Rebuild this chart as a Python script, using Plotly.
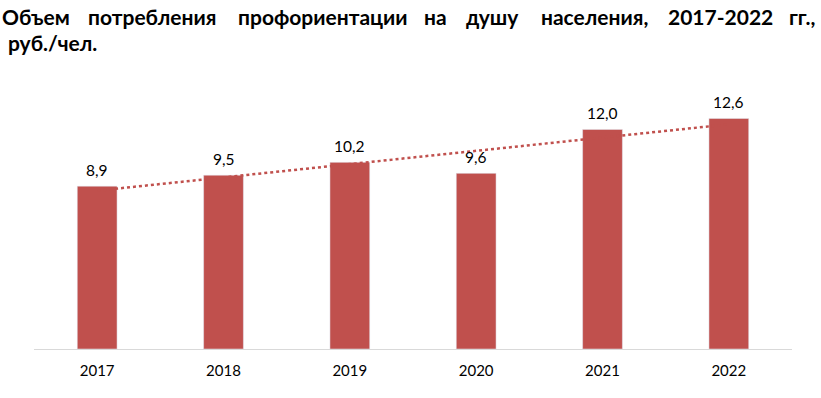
import plotly.graph_objects as go
import numpy as np

years = ["2017", "2018", "2019", "2020", "2021", "2022"]
values = [8.9, 9.5, 10.2, 9.6, 12.0, 12.6]
labels = [f"{v:.1f}".replace(".", ",") for v in values]

title_line1 = ["Объем", "потребления", "профориентации", "на", "душу", "населения,", "2017-2022", "гг.,"]
title_line2 = "руб./чел."

# linear trend (Excel-style trendline)
xi = np.arange(1, len(values) + 1)
slope, intercept = np.polyfit(xi, values, 1)
trend = [slope * x + intercept for x in xi]

bar_color = "#C0504D"
label_font = "Lato, Carlito, Calibri, sans-serif"
title_font = "Lato, Carlito, Calibri, Noto Sans, sans-serif"

fig = go.Figure()
fig.add_trace(go.Scatter(
    x=years, y=trend, mode="lines",
    line=dict(color=bar_color, width=2.5, dash="dot"),
    hoverinfo="skip", showlegend=False,
))
fig.add_trace(go.Bar(
    x=years, y=values, marker_color=bar_color,
    hoverinfo="skip", showlegend=False,
))

PL, PW, PT, PH = 34, 758, 80, 269
annotations = []
for i, (v, lab) in enumerate(zip(values, labels)):
    annotations.append(dict(
        x=i, y=v, xref="x", yref="y", text=lab, showarrow=False,
        xanchor="center", yanchor="bottom", yshift=5,
        font=dict(family=label_font, size=15.5, color="#000000"),
    ))

# justified title: centre of each word on the first line (pixels)
word_cx = [35.5, 152, 323, 435.7, 492.6, 594.5, 720.4, 802]
for w, cx in zip(title_line1, word_cx):
    annotations.append(dict(
        text="<b>" + w + "</b>", xref="paper", yref="paper", x=(cx - PL) / PW, y=1.0,
        xanchor="center", yanchor="middle", yshift=PT - 16, showarrow=False,
        font=dict(family=title_font, size=21, color="#000000"),
    ))
annotations.append(dict(
    text="<b>" + title_line2 + "</b>", xref="paper", yref="paper", x=(6 - PL) / PW, y=1.0,
    xanchor="left", yanchor="middle", yshift=PT - 42, showarrow=False,
    font=dict(family=title_font, size=21, color="#000000"),
))

fig.update_layout(
    width=821, height=398,
    margin=dict(l=PL, r=821 - PL - PW, t=PT, b=398 - PT - PH, autoexpand=False),
    plot_bgcolor="white", paper_bgcolor="white",
    bargap=0.685,
    annotations=annotations,
    xaxis=dict(type="category", range=[-0.5, len(years) - 0.5], showline=True,
               linecolor="#D9D9D9", linewidth=1, ticks="",
               tickfont=dict(family=label_font, size=15, color="#000000"),
               ticklabelstandoff=8, showgrid=False),
    yaxis=dict(range=[0, 14.7], visible=False, showgrid=False, zeroline=False),
)

fig.write_html("out.html", config={"displayModeBar": False},
               post_script="document.body.style.margin='0';document.body.style.overflow='hidden';")
